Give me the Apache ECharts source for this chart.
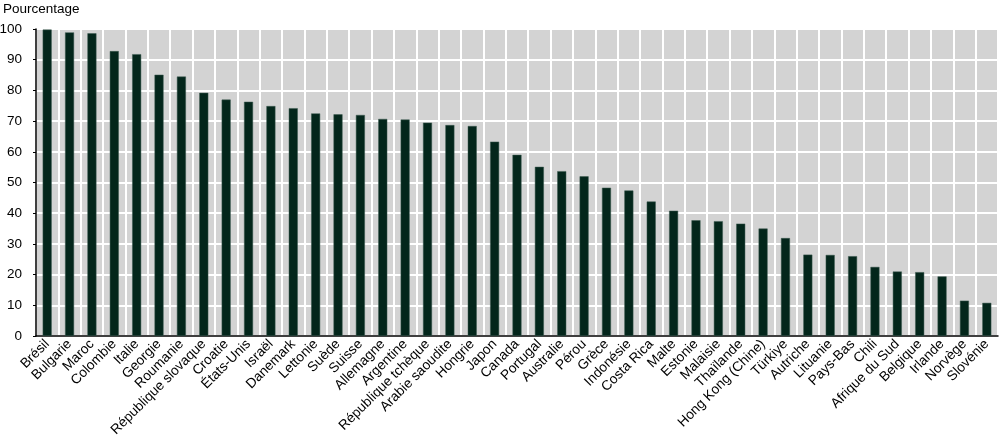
<!DOCTYPE html>
<html>
<head>
<meta charset="utf-8">
<script src="https://cdn.jsdelivr.net/npm/echarts@6/dist/echarts.min.js"></script>
<style>
  html, body { margin: 0; padding: 0; background: #fff; }
  #chart { width: 1000px; height: 440px; }
</style>
</head>
<body>
<div id="chart"></div>
<script>
const countries = [
  'Brésil', 'Bulgarie', 'Maroc', 'Colombie', 'Italie', 'Georgie', 'Roumanie',
  'République slovaque', 'Croatie', 'États-Unis', 'Israël', 'Danemark', 'Lettonie',
  'Suède', 'Suisse', 'Allemagne', 'Argentine', 'République tchèque', 'Arabie saoudite',
  'Hongrie', 'Japon', 'Canada', 'Portugal', 'Australie', 'Pérou', 'Grèce', 'Indonésie',
  'Costa Rica', 'Malte', 'Estonie', 'Malaisie', 'Thaïlande', 'Hong Kong (Chine)',
  'Türkiye', 'Autriche', 'Lituanie', 'Pays-Bas', 'Chili', 'Afrique du Sud', 'Belgique',
  'Irlande', 'Norvège', 'Slovénie'
]

const values = [
  99.8, 98.9, 98.6, 92.8, 91.8, 85.1, 84.5,
  79.2, 77.0, 76.3, 74.9, 74.2, 72.5,
  72.2, 72.0, 70.7, 70.5, 69.5, 68.7,
  68.4, 63.3, 59.0, 55.1, 53.7, 52.0, 48.3, 47.4,
  43.8, 40.8, 37.7, 37.4, 36.6, 35.0,
  31.9, 26.5, 26.4, 26.0, 22.5, 21.0, 20.8,
  19.4, 11.5, 10.8
]

const yTitle = 'Pourcentage'

const chart = echarts.init(document.getElementById('chart'), null, { renderer: 'canvas' })

const font = 'Liberation Sans, Arial, sans-serif'

chart.setOption({
  animation: false,
  textStyle: { fontFamily: font },
  title: {
    text: yTitle,
    left: 3,
    top: 2,
    padding: 0,
    textStyle: { fontSize: 13.5, fontWeight: 'normal', color: '#000', fontFamily: font }
  },
  grid: {
    left: 36,
    right: 2,
    top: 29,
    bottom: 104,
    outerBoundsMode: 'none',
    show: true,
    backgroundColor: '#d3d3d3',
    borderWidth: 0
  },
  xAxis: {
    type: 'category',
    data: countries,
    axisLine: { lineStyle: { color: '#000', width: 1.5 } },
    axisTick: { inside: true, length: 4, interval: 0, lineStyle: { color: '#000' } },
    splitLine: { show: true, interval: 0, lineStyle: { color: '#fff', width: 2 } },
    axisLabel: { rotate: 45, interval: 0, fontSize: 13.7, color: '#000', margin: 6 }
  },
  yAxis: {
    type: 'value',
    min: 0,
    max: 100,
    interval: 10,
    axisLine: { show: true, lineStyle: { color: '#000', width: 1.5 } },
    axisTick: { show: true, length: 3, lineStyle: { color: '#000' } },
    splitLine: { lineStyle: { color: '#fff', width: 2 } },
    axisLabel: { fontSize: 13.5, color: '#000', margin: 14 }
  },
  series: [{
    type: 'bar',
    data: values,
    barWidth: 9,
    itemStyle: { color: '#03261b', borderColor: '#3c5a50', borderWidth: 0.5 }
  }]
})
</script>
</body>
</html>
